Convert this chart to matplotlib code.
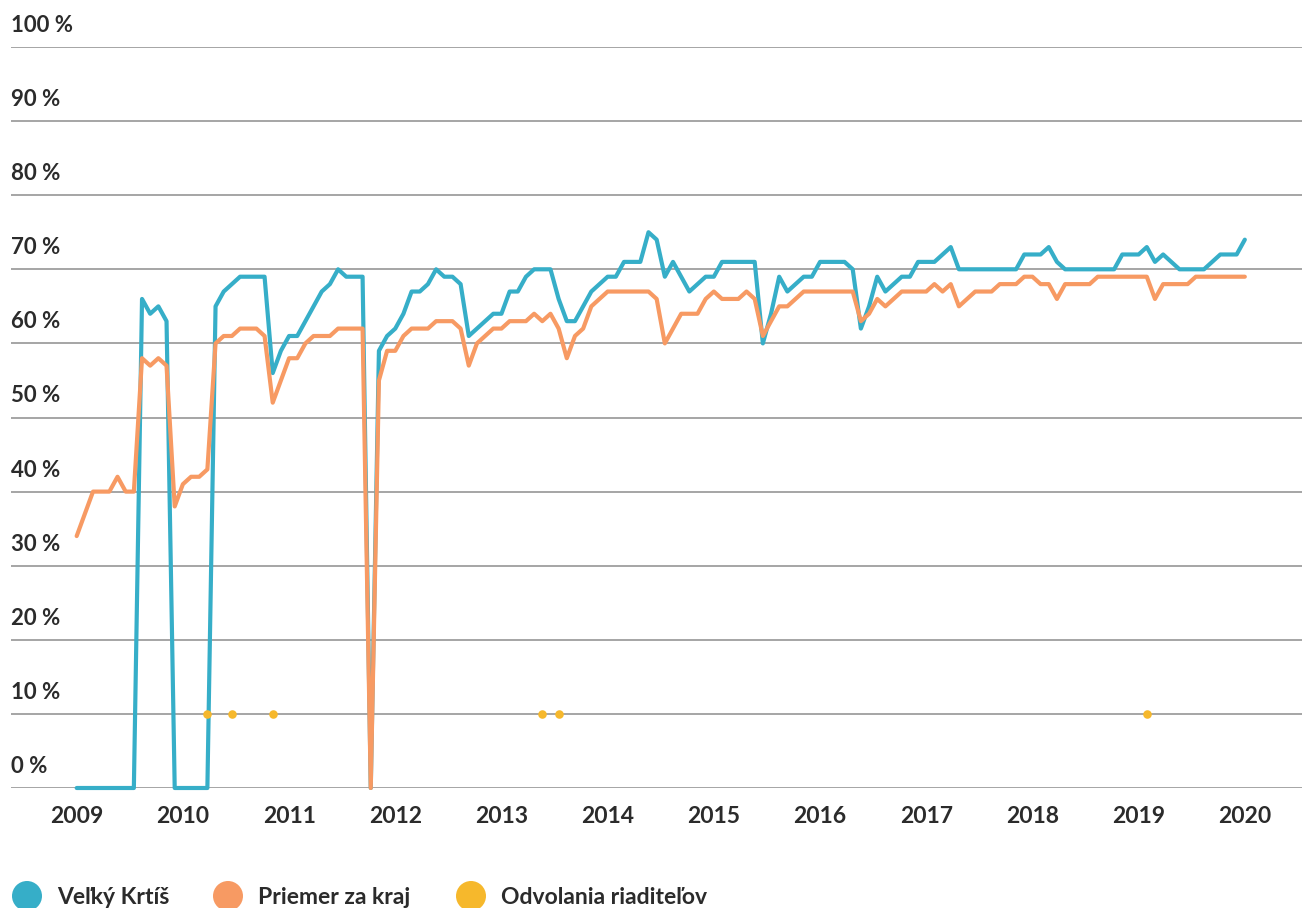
import numpy as np
import matplotlib.pyplot as plt
import matplotlib.transforms as mtransforms
from matplotlib.patches import Circle

# monthly values, 144 points
velky_krtis = [
    0, 0, 0, 0, 0, 0, 0, 0, 66, 64, 65, 63,
    0, 0, 0, 0, 0, 65, 67, 68, 69, 69, 69, 69,
    56, 59, 61, 61, 63, 65, 67, 68, 70, 69, 69, 69,
    0, 59, 61, 62, 64, 67, 67, 68, 70, 69, 69, 68,
    61, 62, 63, 64, 64, 67, 67, 69, 70, 70, 70, 66,
    63, 63, 65, 67, 68, 69, 69, 71, 71, 71, 75, 74,
    69, 71, 69, 67, 68, 69, 69, 71, 71, 71, 71, 71,
    60, 64, 69, 67, 68, 69, 69, 71, 71, 71, 71, 70,
    62, 65, 69, 67, 68, 69, 69, 71, 71, 71, 72, 73,
    70, 70, 70, 70, 70, 70, 70, 70, 72, 72, 72, 73,
    71, 70, 70, 70, 70, 70, 70, 70, 72, 72, 72, 73,
    71, 72, 71, 70, 70, 70, 70, 71, 72, 72, 72, 74,
]
priemer_kraj = [
    34, 37, 40, 40, 40, 42, 40, 40, 58, 57, 58, 57,
    38, 41, 42, 42, 43, 60, 61, 61, 62, 62, 62, 61,
    52, 55, 58, 58, 60, 61, 61, 61, 62, 62, 62, 62,
    0, 55, 59, 59, 61, 62, 62, 62, 63, 63, 63, 62,
    57, 60, 61, 62, 62, 63, 63, 63, 64, 63, 64, 62,
    58, 61, 62, 65, 66, 67, 67, 67, 67, 67, 67, 66,
    60, 62, 64, 64, 64, 66, 67, 66, 66, 66, 67, 66,
    61, 63, 65, 65, 66, 67, 67, 67, 67, 67, 67, 67,
    63, 64, 66, 65, 66, 67, 67, 67, 67, 68, 67, 68,
    65, 66, 67, 67, 67, 68, 68, 68, 69, 69, 68, 68,
    66, 68, 68, 68, 68, 69, 69, 69, 69, 69, 69, 69,
    66, 68, 68, 68, 68, 69, 69, 69, 69, 69, 69, 69,
]
odvolania_idx = [16, 19, 24, 57, 59, 131]
odvolania_val = [10, 10, 10, 10, 10, 10]

years = [2009, 2010, 2011, 2012, 2013, 2014, 2015, 2016, 2017, 2018, 2019, 2020]
year_idx = [0, 13, 26, 39, 52, 65, 78, 91, 104, 117, 130, 143]
y_ticks = [0, 10, 20, 30, 40, 50, 60, 70, 80, 90, 100]
legend_labels = ['Veľký Krtíš', 'Priemer za kraj', 'Odvolania riaditeľov']

BLUE = '#36aec8'
ORANGE = '#f79a63'
GOLD = '#f6b82c'
TEXT = '#2b2b2b'
GRID = '#a5a5a5'

plt.rcParams['font.family'] = ['Lato', 'DejaVu Sans']
plt.rcParams['font.weight'] = 'bold'

W, H = 1302, 908
fig = plt.figure(figsize=(W / 100, H / 100), dpi=100)
ax = fig.add_axes([11 / W, 1 - 788 / H, (W - 11) / W, (788 - 47) / H])

x = np.arange(len(velky_krtis))
ax.set_xlim(-8.04, 150)
ax.set_ylim(0, 100)

for v in y_ticks:
    ax.axhline(v, color=GRID, lw=1.4, zorder=1)

ax.plot(x, velky_krtis, color=BLUE, lw=3, zorder=3, clip_on=False,
        solid_joinstyle='round', solid_capstyle='round')
ax.plot(x, priemer_kraj, color=ORANGE, lw=3, zorder=4, clip_on=False,
        solid_joinstyle='round', solid_capstyle='round')
ax.scatter(odvolania_idx, odvolania_val, s=38, color=GOLD, zorder=5,
           linewidths=0)

# y labels sit above each gridline at the left edge
trans = mtransforms.blended_transform_factory(ax.transAxes, ax.transData)
trans = mtransforms.offset_copy(trans, fig=fig, x=0, y=15, units='dots')
for v in y_ticks:
    ax.text(0, v, f'{v} %', transform=trans, ha='left', va='baseline',
            fontsize=16, fontweight='bold', color=TEXT)

ax.set_yticks([])
ax.set_xticks(year_idx)
ax.set_xticklabels([str(y) for y in years], fontsize=16.5,
                   fontweight='bold', color=TEXT)
ax.tick_params(axis='x', length=0, pad=13)
for s in ax.spines.values():
    s.set_visible(False)

# legend drawn in pixel space
lg = fig.add_axes([0, 0, 1, 1], zorder=-1)
lg.set_xlim(0, W)
lg.set_ylim(H, 0)
lg.axis('off')
leg_cx = [27, 228, 471]
for cx, col, lab in zip(leg_cx, [BLUE, ORANGE, GOLD], legend_labels):
    lg.add_patch(Circle((cx, 896), 15, color=col, lw=0))
    lg.text(cx + 30, 896, lab, ha='left', va='center_baseline',
            fontsize=16.5, fontweight='bold', color=TEXT)

fig.savefig('out.png', dpi=100)
